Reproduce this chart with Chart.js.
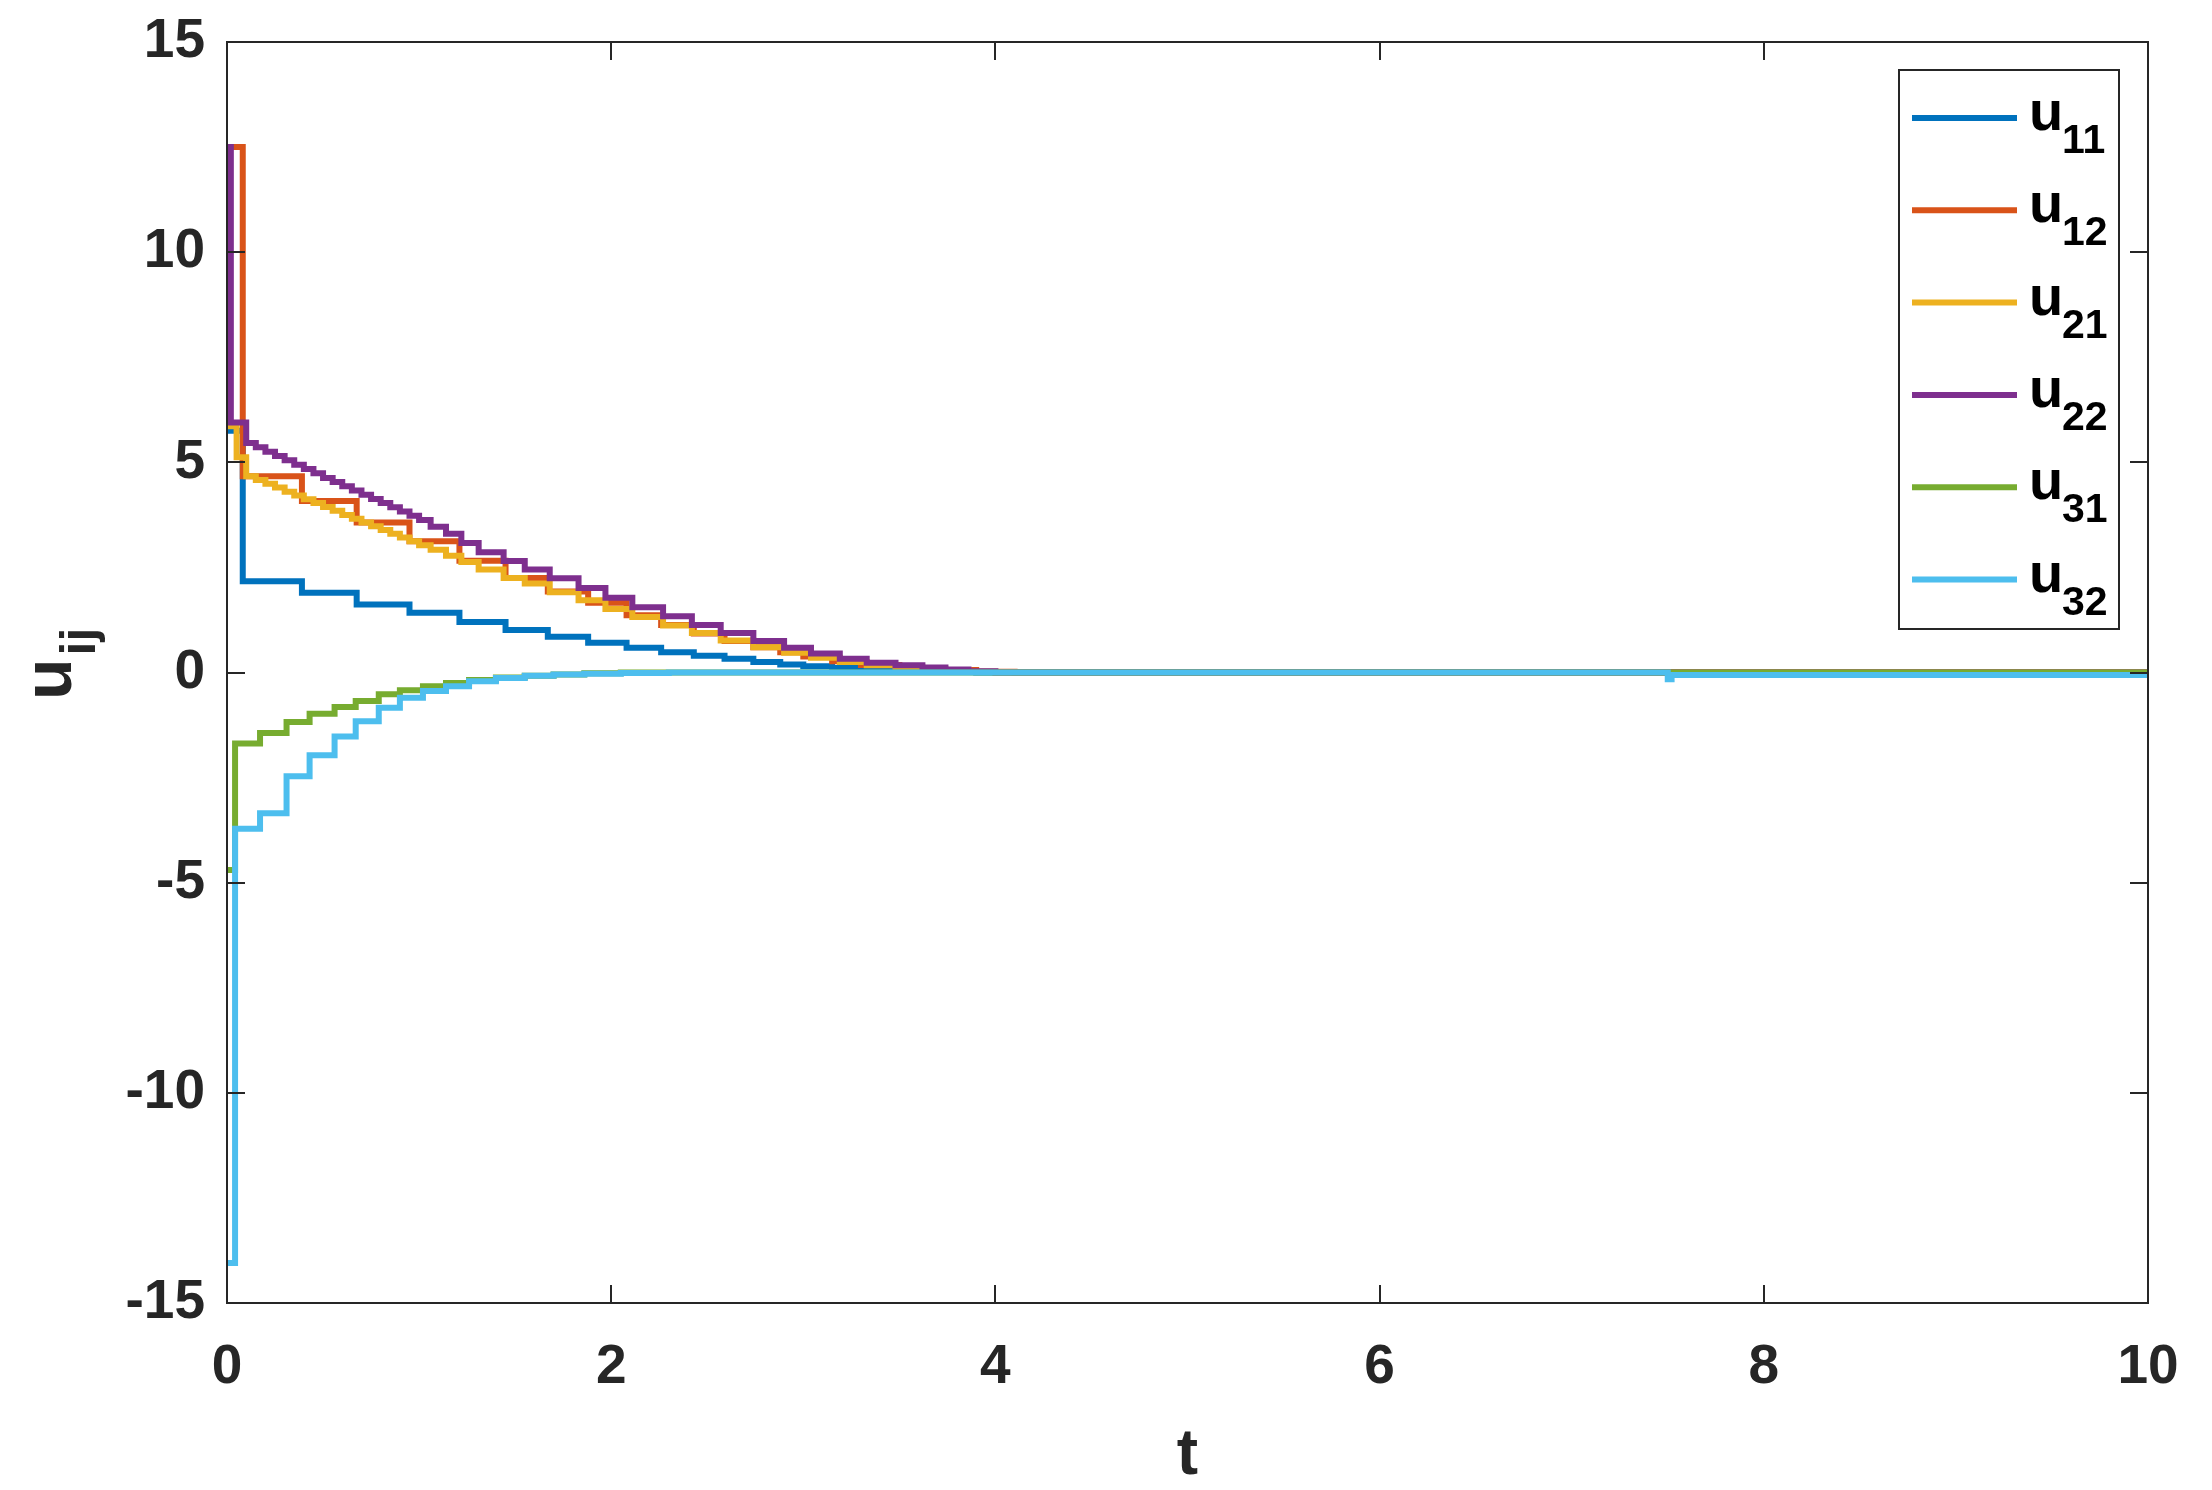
<!DOCTYPE html>
<html>
<head>
<meta charset="utf-8">
<script src="https://cdn.jsdelivr.net/npm/chart.js@4.4.1/dist/chart.umd.min.js"></script>
<style>
  html, body { margin: 0; padding: 0; background: #fff; }
</style>
</head>
<body>
<canvas id="myChart" width="2212" height="1490"></canvas>
<script>
/* data */

const xTicks = [0, 2, 4, 6, 8, 10];
const yTicks = [-15, -10, -5, 0, 5, 10, 15];

const labels = ['11', '12', '21', '22', '31', '32'];
const colors = ['#0072BD', '#D95319', '#EDB120', '#7E2F8E', '#77AC30', '#4DBEEE'];

// agent 1 (u11, u12) update times
const u11T = [0, 0.082, 0.39, 0.675, 0.95, 1.21, 1.45, 1.67, 1.88, 2.08, 2.26, 2.43, 2.59, 2.74, 2.88, 3.0, 3.15, 3.3, 3.5, 3.7, 3.9, 10];
const u11V = [5.75, 2.17, 1.90, 1.62, 1.42, 1.20, 1.01, 0.85, 0.71, 0.59, 0.48, 0.40, 0.33, 0.25, 0.19, 0.15, 0.11, 0.07, 0.04, 0.02, 0, 0];

const u12T = [0, 0.082, 0.39, 0.675, 0.95, 1.21, 1.45, 1.67, 1.88, 2.08, 2.26, 2.43, 2.59, 2.74, 2.88, 3.0, 3.15, 3.3, 3.5, 3.7, 3.9, 4.1, 10];
const u12V = [12.5, 4.67, 4.08, 3.57, 3.12, 2.66, 2.25, 1.93, 1.66, 1.36, 1.13, 0.93, 0.75, 0.60, 0.48, 0.38, 0.27, 0.18, 0.11, 0.06, 0.02, 0, 0];

// agent 2 (u21, u22)
const u21T = [0, 0.003, 0.05, 0.10, 0.15, 0.20, 0.25, 0.30, 0.35, 0.40, 0.45, 0.50, 0.55, 0.60, 0.65, 0.70, 0.75, 0.80, 0.85, 0.90, 0.95, 1.00, 1.06, 1.14, 1.22, 1.31,
  1.44, 1.55, 1.68, 1.83, 1.97, 2.11, 2.27, 2.42, 2.57, 2.74, 2.90, 3.04, 3.19, 3.33, 3.48, 3.62, 3.74, 3.86, 4.0, 10];
const u21V = [10.7, 5.86, 5.12, 4.67, 4.58, 4.49, 4.40, 4.30, 4.21, 4.12, 4.03, 3.94, 3.85, 3.75, 3.66, 3.57, 3.48, 3.39, 3.30, 3.21, 3.12, 3.03, 2.92, 2.78, 2.63, 2.45,
  2.25, 2.12, 1.91, 1.72, 1.51, 1.32, 1.12, 0.94, 0.76, 0.60, 0.47, 0.35, 0.25, 0.17, 0.12, 0.08, 0.05, 0.02, 0, 0];

const u22T = [0, 0.02, 0.10, 0.15, 0.20, 0.25, 0.30, 0.35, 0.40, 0.45, 0.50, 0.55, 0.60, 0.65, 0.70, 0.75, 0.80, 0.85, 0.90, 0.95, 1.00, 1.06, 1.14, 1.22, 1.31,
  1.44, 1.55, 1.68, 1.83, 1.97, 2.11, 2.27, 2.42, 2.57, 2.74, 2.90, 3.04, 3.19, 3.33, 3.48, 3.62, 3.74, 3.86, 4.0, 10];
const u22V = [12.5, 5.95, 5.46, 5.36, 5.25, 5.15, 5.05, 4.94, 4.84, 4.74, 4.63, 4.53, 4.43, 4.33, 4.23, 4.13, 4.03, 3.93, 3.83, 3.73, 3.63, 3.47, 3.30, 3.08, 2.86,
  2.65, 2.45, 2.24, 2.01, 1.78, 1.55, 1.34, 1.13, 0.94, 0.75, 0.59, 0.45, 0.33, 0.23, 0.17, 0.12, 0.07, 0.03, 0, 0];

// agent 3 (u31, u32)
const u31T = [0, 0.042, 0.172, 0.31, 0.43, 0.56, 0.67, 0.79, 0.90, 1.02, 1.14, 1.26, 1.40, 1.55, 1.70, 1.86, 2.05, 10];
const u31V = [-4.7, -1.69, -1.44, -1.18, -0.98, -0.82, -0.68, -0.52, -0.42, -0.33, -0.25, -0.18, -0.12, -0.08, -0.05, -0.02, 0, 0];

const u32T = [0, 0.042, 0.172, 0.31, 0.43, 0.56, 0.67, 0.79, 0.90, 1.02, 1.14, 1.26, 1.40, 1.55, 1.70, 1.86, 2.05, 2.3, 7.50, 7.52, 10];
const u32V = [-14.05, -3.72, -3.35, -2.47, -1.97, -1.52, -1.16, -0.84, -0.60, -0.44, -0.33, -0.21, -0.13, -0.08, -0.05, -0.03, -0.01, 0, -0.16, -0.06, -0.06];

const seriesT = [u11T, u12T, u21T, u22T, u31T, u32T];
const seriesV = [u11V, u12V, u21V, u22V, u31V, u32V];

/* drawing helpers */

const FONT = "'Liberation Sans', Arial, Helvetica, sans-serif";
const INK = '#262626';
const tickLen = 18;

function points(ts, vs) {
  return ts.map((t, i) => ({ x: t, y: vs[i] }));
}

// box, inward ticks, axis titles and legend like matlab
const matlabAxes = {
  id: 'matlabAxes',
  afterDatasetsDraw(chart) {
    const { ctx, chartArea: a, scales: { x, y } } = chart;
    ctx.save();
    ctx.strokeStyle = INK;
    ctx.lineWidth = 2;
    ctx.beginPath();
    xTicks.forEach(v => {
      const px = Math.round(x.getPixelForValue(v));
      ctx.moveTo(px, a.bottom); ctx.lineTo(px, a.bottom - tickLen);
      ctx.moveTo(px, a.top); ctx.lineTo(px, a.top + tickLen);
    });
    yTicks.forEach(v => {
      const py = Math.round(y.getPixelForValue(v));
      ctx.moveTo(a.left, py); ctx.lineTo(a.left + tickLen, py);
      ctx.moveTo(a.right, py); ctx.lineTo(a.right - tickLen, py);
    });
    ctx.stroke();
    ctx.strokeRect(a.left, a.top, a.right - a.left, a.bottom - a.top);

    // x title
    ctx.fillStyle = INK;
    ctx.font = `bold 64px ${FONT}`;
    ctx.textAlign = 'center';
    ctx.textBaseline = 'alphabetic';
    ctx.fillText('t', (a.left + a.right) / 2, 1474);

    // y title u_ij
    ctx.save();
    ctx.translate(71, 700);
    ctx.rotate(-Math.PI / 2);
    ctx.textAlign = 'left';
    ctx.font = `bold 68px ${FONT}`;
    ctx.fillText('u', 0, 0);
    const uw = ctx.measureText('u').width;
    ctx.font = `bold 50px ${FONT}`;
    ctx.fillText('ij', uw + 3, 24);
    ctx.restore();
    ctx.restore();
  },
  afterDraw(chart) {
    const { ctx } = chart;
    ctx.save();
    const bx = 1899, by = 70, bw = 220, bh = 559;
    ctx.fillStyle = '#fff';
    ctx.fillRect(bx, by, bw, bh);
    ctx.strokeStyle = INK;
    ctx.lineWidth = 2;
    ctx.strokeRect(bx, by, bw, bh);
    labels.forEach((lab, i) => {
      const ly = 118 + i * 92.3;
      ctx.strokeStyle = colors[i];
      ctx.lineWidth = 6;
      ctx.beginPath();
      ctx.moveTo(1912, ly); ctx.lineTo(2017, ly);
      ctx.stroke();
      ctx.fillStyle = '#000';
      ctx.textAlign = 'left';
      ctx.textBaseline = 'alphabetic';
      ctx.font = `bold 56px ${FONT}`;
      ctx.fillText('u', 2029, ly + 12);
      ctx.font = `bold 41px ${FONT}`;
      ctx.fillText(lab, 2062, ly + 35);
    });
    ctx.restore();
  }
};

const ctx = document.getElementById('myChart');

new Chart(ctx, {
  type: 'line',
  data: {
    datasets: seriesT.map((ts, i) => ({
      label: 'u' + labels[i],
      data: points(ts, seriesV[i]),
      borderColor: colors[i],
      backgroundColor: colors[i],
      borderWidth: 6,
      pointRadius: 0,
      stepped: 'before',
      fill: false,
      order: 6 - i
    }))
  },
  options: {
    responsive: false,
    animation: false,
    layout: { padding: { top: 42, right: 64, left: 0, bottom: 0 } },
    plugins: {
      legend: { display: false },
      tooltip: { enabled: false }
    },
    scales: {
      x: {
        type: 'linear',
        min: 0,
        max: 10,
        grid: { display: false, drawTicks: false },
        border: { display: false },
        afterBuildTicks: s => { s.ticks = xTicks.map(v => ({ value: v })); },
        afterFit: s => { s.height = 187; s.paddingLeft = 0; s.paddingRight = 0; },
        ticks: {
          color: INK,
          padding: 32,
          maxRotation: 0,
          autoSkip: false,
          font: { family: FONT, size: 55, weight: 'bold' }
        }
      },
      y: {
        type: 'linear',
        min: -15,
        max: 15,
        grid: { display: false, drawTicks: false },
        border: { display: false },
        afterBuildTicks: s => { s.ticks = yTicks.map(v => ({ value: v })); },
        afterFit: s => { s.width = 227; s.paddingTop = 0; s.paddingBottom = 0; },
        ticks: {
          color: INK,
          padding: 22,
          autoSkip: false,
          font: { family: FONT, size: 55, weight: 'bold' }
        }
      }
    }
  },
  plugins: [matlabAxes]
});
</script>
</body>
</html>
